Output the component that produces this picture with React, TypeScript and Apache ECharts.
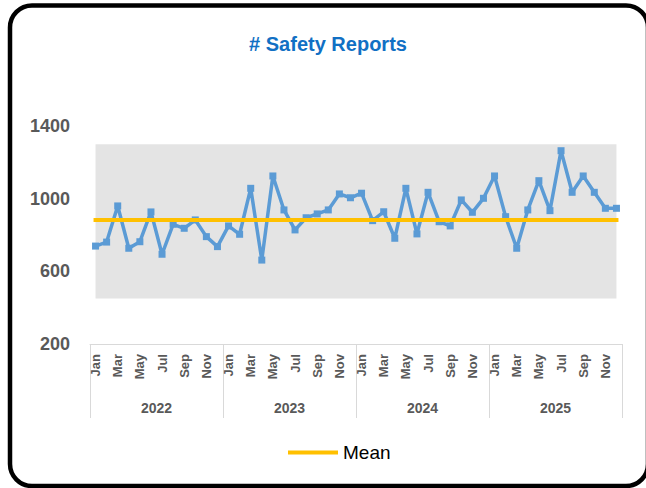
import React, { useEffect, useRef } from "react";
import * as echarts from "echarts";

const MONTHS = ["Jan", "Feb", "Mar", "Apr", "May", "Jun", "Jul", "Aug", "Sep", "Oct", "Nov", "Dec"];
const YEARS = ["2022", "2023", "2024", "2025"];
const REPORTS_2022 = [739, 761, 960, 727, 763, 927, 694, 859, 837, 883, 791, 736];
const REPORTS_2023 = [850, 804, 1057, 662, 1125, 938, 828, 895, 916, 938, 1026, 1005];
const REPORTS_2024 = [1030, 879, 928, 782, 1057, 806, 1035, 873, 850, 993, 925, 1002];
const REPORTS_2025 = [1125, 901, 727, 938, 1099, 934, 1264, 1035, 1125, 1035, 947, 947];
const MEAN = 884;
const LOWER_LIMIT = 450;
const UPPER_LIMIT = 1300;
const Y_TICKS = [200, 600, 1000, 1400];

const FONT = "'Liberation Sans', Arial, sans-serif";

export default function App() {
  const ref = useRef<HTMLDivElement>(null);

  useEffect(() => {
    if (!ref.current) return;
    const chart = echarts.init(ref.current, undefined, { renderer: "svg" });

    const categories: string[] = [];
    YEARS.forEach((y) => MONTHS.forEach((m) => categories.push(`${m} ${y}`)));
    const values = [...REPORTS_2022, ...REPORTS_2023, ...REPORTS_2024, ...REPORTS_2025];
    const first = categories[0];
    const last = categories[categories.length - 1];

    const gridLayout = { left: 90, right: 24, top: 126, bottom: 144, containLabel: false };

    chart.setOption({
      animation: false,
      backgroundColor: "#ffffff",
      textStyle: { fontFamily: FONT },
      graphic: [
        {
          type: "rect",
          shape: { x: 10, y: 5.5, width: 638, height: 480.5, r: 22 },
          style: { fill: "none", stroke: "#000000", lineWidth: 4.5 },
          z: 100,
        },
        {
          type: "text",
          x: 328,
          y: 44,
          style: {
            text: "# Safety Reports",
            textAlign: "center",
            textVerticalAlign: "middle",
            fill: "#1170C4",
            font: `bold 20px ${FONT}`,
          },
        },
      ],
      legend: {
        data: ["Mean"],
        left: 283,
        top: 438,
        icon: "rect",
        itemWidth: 50,
        itemHeight: 4,
        itemGap: 10,
        textStyle: { fontSize: 19, color: "#000000", fontFamily: FONT },
      },
      grid: [gridLayout, gridLayout],
      xAxis: [
        {
          type: "category",
          gridIndex: 0,
          data: categories,
          boundaryGap: true,
          axisLine: { show: true, lineStyle: { color: "#D9D9D9", width: 1 } },
          axisTick: { show: false },
          axisLabel: {
            interval: 1,
            rotate: 90,
            margin: 10,
            fontSize: 13,
            fontWeight: "bold",
            color: "#595959",
            fontFamily: FONT,
            formatter: (v: string) => v.split(" ")[0],
          },
          splitLine: { show: false },
        },
        {
          type: "category",
          gridIndex: 1,
          data: YEARS,
          boundaryGap: true,
          axisLine: { show: false },
          axisTick: {
            show: true,
            interval: 0,
            length: 74,
            lineStyle: { color: "#D9D9D9", width: 1 },
          },
          axisLabel: {
            interval: 0,
            margin: 57,
            fontSize: 14,
            fontWeight: "bold",
            color: "#595959",
            fontFamily: FONT,
          },
          splitLine: { show: false },
        },
      ],
      yAxis: [
        {
          type: "value",
          gridIndex: 0,
          min: Y_TICKS[0],
          max: Y_TICKS[Y_TICKS.length - 1],
          interval: Y_TICKS[1] - Y_TICKS[0],
          axisLine: { show: false },
          axisTick: { show: false },
          splitLine: { show: false },
          axisLabel: {
            margin: 20,
            fontSize: 18,
            fontWeight: "bold",
            color: "#595959",
            fontFamily: FONT,
            formatter: (v: number) => String(v),
          },
        },
        {
          type: "value",
          gridIndex: 1,
          show: false,
          min: 0,
          max: 1,
        },
      ],
      series: [
        {
          name: "# Safety Reports",
          type: "line",
          xAxisIndex: 0,
          yAxisIndex: 0,
          data: values,
          symbol: "rect",
          symbolSize: 7,
          color: "#5B9BD5",
          lineStyle: { color: "#5B9BD5", width: 3.5 },
          itemStyle: { color: "#5B9BD5" },
          z: 3,
          markArea: {
            silent: true,
            itemStyle: { color: "#E4E4E4" },
            data: [[{ coord: [first, LOWER_LIMIT] }, { coord: [last, UPPER_LIMIT] }]],
          },
        },
        {
          name: "Mean",
          type: "line",
          xAxisIndex: 0,
          yAxisIndex: 0,
          data: [],
          color: "#FFC000",
          itemStyle: { color: "#FFC000" },
          lineStyle: { color: "#FFC000", width: 4 },
          z: 4,
          markLine: {
            silent: true,
            symbol: "none",
            label: { show: false },
            lineStyle: { color: "#FFC000", width: 4, type: "solid", cap: "square" },
            data: [[{ coord: [first, MEAN] }, { coord: [last, MEAN] }]],
            z: 5,
          },
        },
      ],
    });

    return () => chart.dispose();
  }, []);

  return (
    <div
      ref={ref}
      style={{ position: "fixed", left: 0, top: 0, width: 646, height: 488, background: "#fff" }}
    />
  );
}
